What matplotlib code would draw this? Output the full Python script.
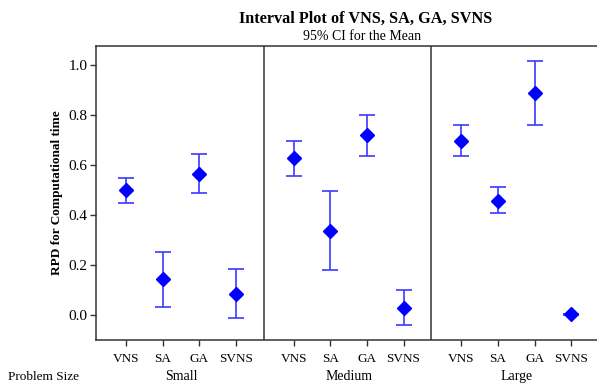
import matplotlib
matplotlib.use("Agg")
import matplotlib.pyplot as plt

plt.rcParams['font.family'] = ['Liberation Serif', 'DejaVu Serif']

groups = ["Small", "Medium", "Large"]
methods = ["VNS", "SA", "GA", "SVNS"]
means = [
    [0.500, 0.143, 0.565, 0.085],
    [0.627, 0.336, 0.720, 0.029],
    [0.697, 0.457, 0.889, 0.003],
]
lowers = [
    [0.448, 0.033, 0.489, -0.013],
    [0.557, 0.179, 0.636, -0.040],
    [0.636, 0.409, 0.761, 0.001],
]
uppers = [
    [0.548, 0.252, 0.644, 0.183],
    [0.696, 0.496, 0.800, 0.100],
    [0.761, 0.511, 1.015, 0.005],
]
yticks = [0.0, 0.2, 0.4, 0.6, 0.8, 1.0]

W, H = 597, 385
fig = plt.figure(figsize=(W / 100, H / 100), dpi=100)
left, right, top, bottom = 96, 599, 46, 340
ax = fig.add_axes([left / W, 1 - bottom / H, (right - left) / W, (bottom - top) / H])

pw = 4.58
off = 0.82
blue = "#0000ff"
ebc = "#3a3aff"
xs_all, lab_all = [], []
for g, grp in enumerate(groups):
    xs = [g * pw + i for i in range(len(methods))]
    m = means[g]
    lo = [m[i] - lowers[g][i] for i in range(len(m))]
    hi = [uppers[g][i] - m[i] for i in range(len(m))]
    ax.errorbar(xs, m, yerr=[lo, hi], fmt='none', ecolor=ebc, elinewidth=1.2,
                capsize=6, capthick=1.2, zorder=2)
    ax.plot(xs, m, linestyle='none', marker='D', markersize=7, color=blue, zorder=3)
    xs_all += xs
    lab_all += methods
    if g > 0:
        ax.axvline(g * pw - off, color='#333333', linewidth=1.1)
    ax.text(g * pw + 1.5, -0.245, grp, ha='center', va='center', fontsize=10)

ax.set_xlim(-off, 3 * pw - off)
ax.set_ylim(-0.1, 1.076)
ax.set_xticks(xs_all)
ax.set_xticklabels(lab_all, fontsize=9.5)
ax.set_yticks(yticks)
ax.set_yticklabels([f"{v:.1f}" for v in yticks], fontsize=11)
ax.tick_params(axis='x', direction='out', length=4, width=1, color='#333333', pad=5)
ax.tick_params(axis='y', direction='out', length=4, width=1, color='#333333', pad=2)
for s in ax.spines.values():
    s.set_color('#333333')
    s.set_linewidth(1.1)
ax.set_ylabel("RPD for Computational time", fontsize=9.5, fontweight='bold', labelpad=4)

fig.text(8 / W, 1 - 377 / H, "Problem Size", ha='left', va='center', fontsize=9.5)
fig.text(366 / W, 1 - 19 / H, "Interval Plot of VNS, SA, GA, SVNS", ha='center', va='center',
         fontsize=11.7, fontweight='bold')
fig.text(362 / W, 1 - 36 / H, "95% CI for the Mean", ha='center', va='center', fontsize=10)

fig.savefig("out.png", dpi=100)
